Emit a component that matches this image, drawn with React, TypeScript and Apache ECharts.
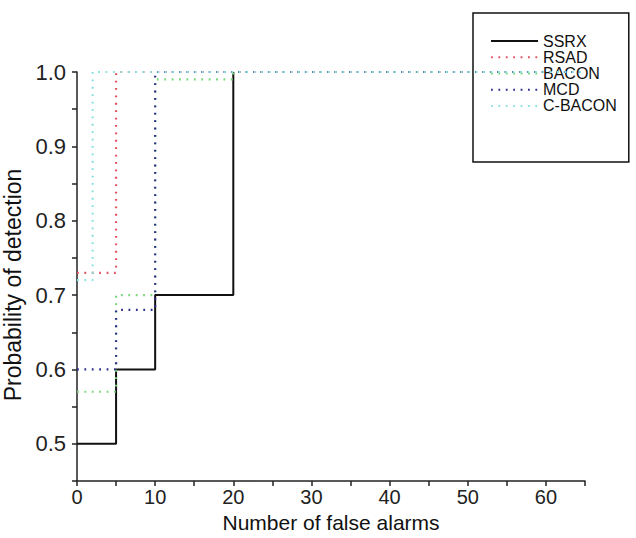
import React, { useEffect, useRef } from "react";
import * as echarts from "echarts";

// Data (step curves: probability of detection vs number of false alarms)
const seriesNames = ["SSRX", "RSAD", "BACON", "MCD", "C-BACON"];
const ssrxX = [0, 5, 10, 20];
const ssrxY = [0.5, 0.6, 0.7, 1.0];
const rsadX = [0, 5, 65];
const rsadY = [0.73, 1.0, 1.0];
const baconX = [0, 5, 10, 20, 65];
const baconY = [0.57, 0.7, 0.99, 1.0, 1.0];
const mcdX = [0, 5, 10, 65];
const mcdY = [0.6, 0.68, 1.0, 1.0];
const cbaconX = [0, 2, 65];
const cbaconY = [0.72, 1.0, 1.0];

const xTicks = [0, 10, 20, 30, 40, 50, 60];
const yTicks = [0.5, 0.6, 0.7, 0.8, 0.9, 1.0];

const colors = ["#111111", "#e0505f", "#78d878", "#2e2e8e", "#8ae2e2"];
const FONT = "'Liberation Sans', Arial, sans-serif";

function pairs(xs: number[], ys: number[]) {
  return xs.map((x, i) => [x, ys[i]]);
}

export default function App() {
  const ref = useRef<HTMLDivElement>(null);
  useEffect(() => {
    if (!ref.current) return;
    const chart = echarts.init(ref.current, undefined, { renderer: "svg" });
    const data = [
      pairs(ssrxX, ssrxY),
      pairs(rsadX, rsadY),
      pairs(baconX, baconY),
      pairs(mcdX, mcdY),
      pairs(cbaconX, cbaconY),
    ];
    const series = seriesNames.map((name, i) => ({
      name,
      type: "line",
      step: "end",
      data: data[i],
      symbol: "none",
      showSymbol: false,
      color: colors[i],
      lineStyle: {
        color: colors[i],
        width: i === 0 ? 2 : 2.2,
        type: i === 0 ? "solid" : [1.8, 5.6],
      },
      z: 2 + i,
    }));
    chart.setOption({
      animation: false,
      backgroundColor: "#ffffff",
      textStyle: { fontFamily: FONT },
      grid: {
        left: 77,
        right: 51,
        top: 72,
        bottom: 57,
        containLabel: false,
        outerBoundsMode: "none",
      },
      legend: {
        orient: "vertical",
        left: 473,
        top: 13,
        padding: [20, 12, 48, 17],
        backgroundColor: "#ffffff",
        borderColor: "#111111",
        borderWidth: 1.5,
        itemWidth: 47,
        itemHeight: 10,
        itemGap: 0,
        itemStyle: { opacity: 0 },
        textStyle: { fontSize: 16, lineHeight: 16.2, color: "#111111", fontFamily: FONT },
        data: seriesNames,
      },
      xAxis: {
        type: "value",
        min: 0,
        max: 65,
        interval: 5,
        name: "Number of false alarms",
        nameLocation: "middle",
        nameGap: 29,
        nameTextStyle: { fontSize: 21, color: "#111111", fontFamily: FONT },
        axisLine: { show: true, onZero: false, lineStyle: { color: "#222222", width: 1.5 } },
        axisTick: { show: true, inside: false, length: 5, lineStyle: { color: "#222222", width: 1.5 } },
        axisLabel: {
          fontSize: 20,
          color: "#222222",
          margin: 6,
          fontFamily: FONT,
          formatter: (v: number) => (xTicks.includes(v) ? String(v) : ""),
        },
        splitLine: { show: false },
      },
      yAxis: {
        type: "value",
        min: 0.45,
        max: 1.0,
        interval: 0.05,
        name: "Probability of detection",
        nameLocation: "middle",
        nameGap: 40,
        nameTextStyle: {
          fontSize: 23,
          color: "#111111",
          fontFamily: FONT,
          padding: [0, 17, 0, 0],
        },
        axisLine: { show: true, onZero: false, lineStyle: { color: "#222222", width: 1.5 } },
        axisTick: { show: true, inside: false, length: 5, lineStyle: { color: "#222222", width: 1.5 } },
        axisLabel: {
          fontSize: 22,
          color: "#222222",
          margin: 11,
          fontFamily: FONT,
          formatter: (v: number) => {
            const hit = yTicks.find((t) => Math.abs(t - v) < 1e-6);
            return hit !== undefined ? hit.toFixed(1) : "";
          },
        },
        splitLine: { show: false },
      },
      series,
    });
    return () => chart.dispose();
  }, []);
  return (
    <div
      ref={ref}
      style={{ position: "fixed", left: 0, top: 0, width: 636, height: 538, background: "#fff" }}
    />
  );
}
